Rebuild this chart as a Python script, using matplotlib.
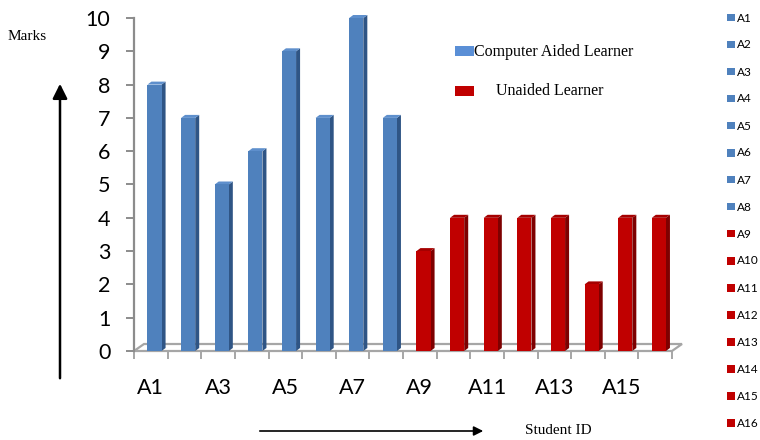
import matplotlib.pyplot as plt
from matplotlib.patches import Polygon, Rectangle

students = [f"A{i}" for i in range(1, 17)]
aided_marks = [8, 7, 5, 6, 9, 7, 10, 7]
unaided_marks = [3, 4, 4, 4, 4, 2, 4, 4]
marks = aided_marks + unaided_marks
y_ticks = list(range(0, 11))

blue = ["#4F81BD", "#2F5585", "#5E8fcc"]   # front, side, top
red = ["#C00000", "#7E0000", "#A50000"]

W, H = 760, 440
fig = plt.figure(figsize=(W / 100, H / 100), dpi=100)


def fx(px):
    return px / W


def fy(py):
    return 1 - py / H


# plot area: x 0..16 -> px 134..672, y 0..10 -> px 351..18
left, right, top, bottom = 134, 672, 18, 351
ax = fig.add_axes([fx(left), fy(bottom), (right - left) / W, (bottom - top) / H])
ax.set_xlim(0, len(students))
ax.set_ylim(0, 10)
px_x = (right - left) / len(students)
px_y = (bottom - top) / 10.0

for s in ["top", "right", "bottom"]:
    ax.spines[s].set_visible(False)
ax.spines["left"].set_color("#8c8c8c")
ax.spines["left"].set_linewidth(1.6)

ax.set_yticks(y_ticks)
ax.set_yticklabels([str(t) for t in y_ticks], fontsize=15.5, family="Lato")
ax.tick_params(axis="y", length=6, width=1.4, color="#8c8c8c", pad=11)
ax.set_xticks([])

# floor of the 3d chart
fdx, fdy = 10 / px_x, 7 / px_y
floor = Polygon([(0, 0), (len(students), 0), (len(students) + fdx, fdy), (fdx, fdy)],
                closed=True, facecolor="white", edgecolor="#a6a6a6", lw=1.6,
                zorder=1, clip_on=False)
ax.add_patch(floor)
ax.vlines(range(len(students) + 1), -0.25, 0, color="#a6a6a6", lw=1.4, clip_on=False)

# bars with a little depth
bw = 0.42
bdx, bdy = 4 / px_x, 3 / px_y
for i, v in enumerate(marks):
    c = blue if i < len(aided_marks) else red
    x0 = i + 0.40
    x1 = x0 + bw
    ax.bar(x0, v, width=bw, align="edge", color=c[0], zorder=3, edgecolor="none")
    ax.add_patch(Polygon([(x1, 0), (x1 + bdx, bdy), (x1 + bdx, v + bdy), (x1, v)],
                         closed=True, facecolor=c[1], edgecolor="none", zorder=2.9,
                         clip_on=False))
    ax.add_patch(Polygon([(x0, v), (x1, v), (x1 + bdx, v + bdy), (x0 + bdx, v + bdy)],
                         closed=True, facecolor=c[2], edgecolor="none", zorder=2.9,
                         clip_on=False))

# category labels, every other student
for i in range(0, len(students), 2):
    ax.text(i + 0.5, -(388 - bottom) / px_y, students[i], ha="center", va="center",
            fontsize=15.5, family="Lato", clip_on=False)

# series legend
fig.add_artist(Rectangle((fx(455), fy(56.5)), 19 / W, 10 / H, transform=fig.transFigure,
                         facecolor="#5a8fd6", edgecolor="none"))
fig.text(fx(474), fy(52), "Computer Aided Learner", family="Liberation Serif",
         fontsize=11.5, va="center", ha="left")
fig.add_artist(Rectangle((fx(455), fy(96)), 19 / W, 10 / H, transform=fig.transFigure,
                         facecolor="#C00000", edgecolor="none"))
fig.text(fx(496), fy(91), "Unaided Learner", family="Liberation Serif",
         fontsize=11.5, va="center", ha="left")

# per student legend on the right
for i, name in enumerate(students):
    c = blue[0] if i < len(aided_marks) else red[0]
    yc = 18 + i * 27
    fig.add_artist(Rectangle((fx(727), fy(yc + 3.5)), 7.5 / W, 7.5 / H,
                             transform=fig.transFigure, facecolor=c, edgecolor="none"))
    fig.text(fx(737), fy(yc), name, family="Lato", fontsize=8.5, va="center", ha="left")

# axis titles with arrows
fig.text(fx(8), fy(36), "Marks", family="Liberation Serif", fontsize=11, va="center")
ax.annotate("", xy=(fx(60), fy(81)), xytext=(fx(60), fy(381)),
            xycoords="figure fraction", textcoords="figure fraction",
            arrowprops=dict(arrowstyle="-|>", color="black", lw=1.8, mutation_scale=22),
            annotation_clip=False)
ax.annotate("", xy=(fx(486), fy(431)), xytext=(fx(257), fy(431)),
            xycoords="figure fraction", textcoords="figure fraction",
            arrowprops=dict(arrowstyle="-|>", color="black", lw=1.2, mutation_scale=14),
            annotation_clip=False)
fig.text(fx(525), fy(430), "Student ID", family="Liberation Serif", fontsize=11,
         va="center")

fig.savefig("out.png", dpi=100)
